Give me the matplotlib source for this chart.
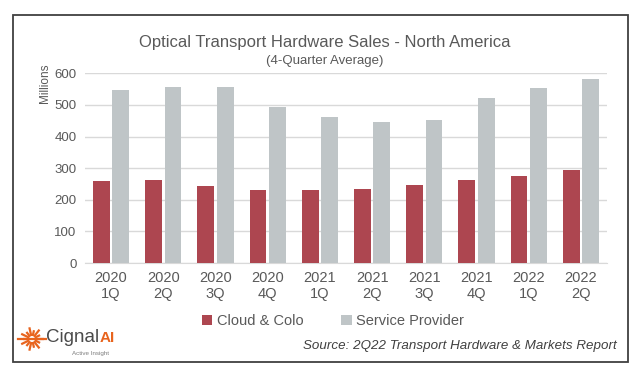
import matplotlib
matplotlib.use("Agg")
import matplotlib.pyplot as plt
import numpy as np
from matplotlib.patches import Rectangle

plt.rcParams['font.family'] = ['Liberation Sans', 'DejaVu Sans']

years = ["2020", "2020", "2020", "2020", "2021", "2021", "2021", "2021", "2022", "2022"]
quarters = ["1Q", "2Q", "3Q", "4Q", "1Q", "2Q", "3Q", "4Q", "1Q", "2Q"]
cloud_colo = [258, 262, 244, 232, 232, 234, 247, 264, 275, 295]
service_provider = [546, 556, 556, 493, 462, 446, 452, 522, 554, 582]
yticks = [0, 100, 200, 300, 400, 500, 600]

RED = "#AD4650"
GRAY = "#BFC5C7"
TXT = "#595959"

W, H = 640, 376
fig = plt.figure(figsize=(6.4, 3.76), dpi=100)

# outer frame
fig.patches.append(Rectangle((13 / W, 1 - 362 / H), (628 - 13) / W, (362 - 15) / H,
                             transform=fig.transFigure, fill=False,
                             edgecolor="#404040", linewidth=1.3))

ax = fig.add_axes([85 / W, 1 - 263 / H, (607 - 85) / W, (263 - 73.3) / H])
x = np.arange(len(quarters))
bw = 0.32
ax.bar(x - 0.185, cloud_colo, width=bw, color=RED, label="Cloud & Colo", zorder=3)
ax.bar(x + 0.185, service_provider, width=bw, color=GRAY, label="Service Provider", zorder=3)

ax.set_xlim(-0.5, len(quarters) - 0.5)
ax.set_ylim(0, 600)
ax.set_yticks(yticks)
ax.set_yticklabels([str(v) for v in yticks], fontsize=9.5, color=TXT)
ax.set_xticks(x)
ax.set_xticklabels([f"{y}\n{q}" for y, q in zip(years, quarters)], fontsize=10.5,
                   color=TXT, linespacing=1.15)
ax.tick_params(axis="both", length=0)
ax.tick_params(axis="x", pad=6)
ax.tick_params(axis="y", pad=6)
ax.grid(axis="y", color="#D9D9D9", linewidth=1, zorder=0)
for s in ["top", "right", "left"]:
    ax.spines[s].set_visible(False)
ax.spines["bottom"].set_color("#D9D9D9")
ax.set_facecolor("none")

fig.text(45 / W, 1 - 83 / H, "Millions", rotation=90, fontsize=8.5, color=TXT,
         ha="center", va="center")

fig.text(325 / W, 1 - 42 / H, "Optical Transport Hardware Sales - North America",
         fontsize=12, color=TXT, ha="center", va="center")
fig.text(325 / W, 1 - 61 / H, "(4-Quarter Average)", fontsize=9.5, color=TXT,
         ha="center", va="center")

leg = fig.legend(loc="center", bbox_to_anchor=(333 / W, 1 - 321 / H), ncol=2,
                 frameon=False, fontsize=10.5, handlelength=0.7, handleheight=0.7,
                 handletextpad=0.3, columnspacing=2.6, labelcolor=TXT)

fig.text(617 / W, 1 - 346 / H, "Source: 2Q22 Transport Hardware & Markets Report",
         fontsize=9.6, style="italic", color="#404040", ha="right", va="center")

# logo
ORANGE = "#E8641E"
cx, cy = 32, 339
lax = fig.add_axes([0, 0, 1, 1], zorder=-1)
lax.set_xlim(0, W)
lax.set_ylim(H, 0)
lax.axis("off")
angles = np.linspace(0, 2 * np.pi, 14, endpoint=False)
for i, a in enumerate(angles):
    r0 = 3
    r1 = 12 if i % 2 == 0 else 9
    lax.plot([cx + r0 * np.cos(a), cx + r1 * np.cos(a)],
             [cy + r0 * np.sin(a), cy + r1 * np.sin(a)], color=ORANGE, lw=1.6,
             solid_capstyle="butt")
lax.plot([cx - 14, cx + 14], [cy, cy], color=ORANGE, lw=1.6)
fig.text(46 / W, 1 - 337 / H, "Cignal", fontsize=13.5, color="#4A4A4A", ha="left",
         va="center")
fig.text(100 / W, 1 - 338 / H, "AI", fontsize=11, color=ORANGE, ha="left",
         va="center", weight="bold")
fig.text(72 / W, 1 - 353 / H, "Active Insight", fontsize=4.5, color="#7F7F7F",
         ha="left", va="center")

fig.savefig("out.png", dpi=100)
